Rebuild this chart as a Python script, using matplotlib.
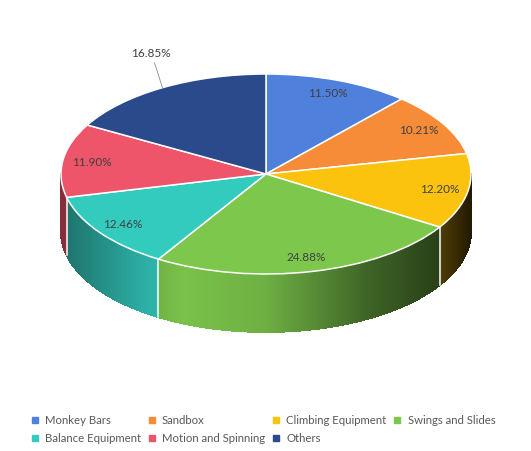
import numpy as np
import matplotlib
matplotlib.use("Agg")
import matplotlib.pyplot as plt
import matplotlib.colors as mcolors
from matplotlib.collections import PolyCollection
from matplotlib.lines import Line2D

categories = ["Monkey Bars", "Sandbox", "Climbing Equipment", "Swings and Slides",
              "Balance Equipment", "Motion and Spinning", "Others"]
values = [11.50, 10.21, 12.20, 24.88, 12.46, 11.90, 16.85]
colors = ["#4f80dc", "#f68c37", "#fcc30e", "#7dc84c", "#34cbbf", "#ee546a", "#2b4a8c"]

plt.rcParams["font.family"] = ["Lato", "DejaVu Sans"]

W, H = 531, 451
fig = plt.figure(figsize=(W / 100, H / 100), dpi=100)
fig.patch.set_facecolor("white")
ax = fig.add_axes([0, 0, 1, 1])

# top face
wedges, _ = ax.pie(values, colors=colors, startangle=90, counterclock=False, radius=1,
                   wedgeprops=dict(edgecolor="white", linewidth=1.1))
for w in wedges:
    w.set_zorder(3)

# pixel mapping (style): centre, radii, depth
cx, cy, rx, ry = 266, 174, 205, 100
depth = 0.58
ax.set_aspect("auto")
ax.set_xlim(-cx / rx, (W - cx) / rx)
ax.set_ylim(-(H - cy) / ry, cy / ry)
ax.axis("off")

fr = np.array(values) / np.sum(values)
cum = np.concatenate([[0], np.cumsum(fr)])

def shade(c):
    return np.interp(c, [-1, -0.6, -0.4, 0.0, 0.5, 0.85, 1.0],
                        [0.55, 0.85, 0.97, 0.88, 0.5, 0.32, 0.14])

polys, fcs = [], []
for i in range(len(values)):
    a_lo = 90 - 360 * cum[i + 1]
    a_hi = 90 - 360 * cum[i]
    base = np.array(mcolors.to_rgb(colors[i]))
    for k in range(-2, 2):
        lo = max(a_lo, 180 + 360 * k)
        hi = min(a_hi, 360 + 360 * k)
        if hi <= lo:
            continue
        n = max(2, int((hi - lo) / 0.5) + 1)
        t = np.radians(np.linspace(lo, hi, n))
        for j in range(n - 1):
            x0, x1 = np.cos(t[j]), np.cos(t[j + 1])
            y0, y1 = np.sin(t[j]), np.sin(t[j + 1])
            polys.append([(x0, y0), (x1, y1), (x1, y1 - depth), (x0, y0 - depth)])
            f = shade(np.cos((t[j] + t[j + 1]) / 2))
            fcs.append(np.clip(base * f, 0, 1))
pc = PolyCollection(polys, facecolors=fcs, edgecolors=fcs, linewidths=0.6,
                    antialiased=False, zorder=1)
ax.add_collection(pc)

# white seams on the side at slice boundaries
for c in cum[:-1]:
    a = np.radians(90 - 360 * c)
    if np.sin(a) < -0.01:
        ax.plot([np.cos(a), np.cos(a)], [np.sin(a), np.sin(a) - depth],
                color="white", lw=1.1, zorder=2)

# labels
for i, v in enumerate(values):
    mid = np.radians(90 - 360 * (cum[i] + fr[i] / 2))
    txt = f"{v:.2f}%"
    if categories[i] == "Others":
        ax.annotate(txt, xy=(np.cos(mid), np.sin(mid)), xytext=(-8, 21),
                    textcoords="offset points", ha="center", va="bottom",
                    fontsize=8.5, color="#404040", zorder=5,
                    arrowprops=dict(arrowstyle="-", color="#8c8c8c", lw=0.6,
                                    shrinkA=1, shrinkB=0))
    else:
        r = 0.86
        ax.text(r * np.cos(mid), r * np.sin(mid), txt, ha="center", va="center",
                fontsize=8.5, color="#404040", zorder=5)

# legend (row-wise order for 4 columns)
handles = [Line2D([], [], linestyle="none", marker="s", markersize=4.5,
                  markerfacecolor=c, markeredgecolor=c) for c in colors]
order = [0, 4, 1, 5, 2, 6, 3]
fig.legend([handles[i] for i in order], [categories[i] for i in order],
           ncol=4, loc="center left", bbox_to_anchor=(30 / W, 1 - 429.5 / H),
           frameon=False, fontsize=8.2, labelcolor="#595959",
           handlelength=0.8, handletextpad=0.5, columnspacing=0.55,
           labelspacing=0.6, borderpad=0, borderaxespad=0)

fig.savefig("out.png", dpi=100, facecolor="white")
